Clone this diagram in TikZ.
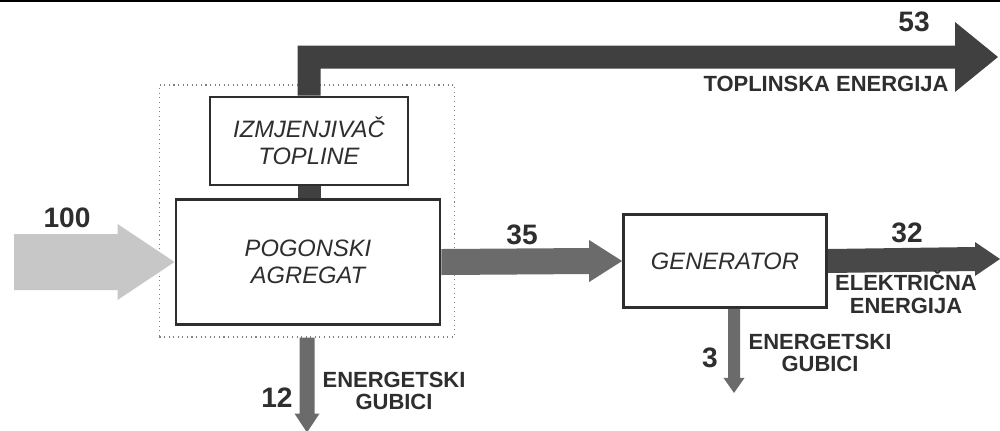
\documentclass[tikz,border=0pt]{standalone}
\usepackage{fontspec}
\setmainfont{Liberation Sans}
\usetikzlibrary{calc}
\definecolor{inflow}{gray}{0.78}
\definecolor{midflow}{gray}{0.42}
\definecolor{darkflow}{gray}{0.25}
\definecolor{ink}{gray}{0.18}
\begin{document}
\begin{tikzpicture}[x=0.2mm,y=-0.2mm,
    box/.style={draw=ink,line width=1.6pt,fill=white,inner sep=0pt,align=center,
      text=ink,font=\fontsize{13.5}{15.5}\selectfont\itshape},
    num/.style={inner sep=0pt,text=ink,font=\fontsize{16}{18}\selectfont\bfseries},
    lbl/.style={inner sep=0pt,align=center,text=ink,font=\fontsize{12.5}{13}\selectfont\bfseries}]
  \useasboundingbox (0,0) rectangle (1000,430);
  \draw[line width=0.5mm] (0,1) -- (1000,1);
  % dotted frame round the unit
  \node[draw=gray,dotted,line width=0.6pt,minimum width=59mm,minimum height=50.4mm]
  (grp) at (307,211) {};
  \node[box,minimum width=52.8mm,minimum height=25mm] (pa) at (308,262) {POGONSKI\\AGREGAT};
  \node[box,minimum width=39.6mm,minimum height=17.6mm] (iz) at (309,141) {IZMJENJIVAČ\\TOPLINE};
  \node[box,minimum width=40.6mm,minimum height=18.6mm] (gen) at (725,261) {GENERATOR};
  \coordinate (src) at (14,262);
  \coordinate (t53) at (998,57);
  \coordinate (t32) at (1000,259);
  \coordinate (t12) at ($(grp.south)+(0,95)$);
  \coordinate (t3) at ($(gen.south)+(9,84)$);
  % flows
  \fill[inflow] ($(src)+(0,-28)$) -- ($(pa.west)+(-57,-28)$) -- ($(pa.west)+(-57,-38)$)
  -- (pa.west) -- ($(pa.west)+(-57,38)$) -- ($(pa.west)+(-57,28)$) -- ($(src)+(0,28)$) -- cycle;
  \fill[darkflow] ($(iz.south)+(-11.5,0)$) rectangle ($(iz.south |- pa.north)+(11.5,0)$);
  \fill[darkflow] ($(iz.north)+(-11.5,0)$) |- ($(t53)+(-43,-11.5)$) -- ++(0,-23.5)
  -- (t53) -- ($(t53)+(-43,35)$) -- ++(0,-23.5) -| ($(iz.north)+(11.5,0)$) -- cycle;
  \fill[midflow] ($(pa.east)+(0,-13)$) -- ($(gen.west)+(-33,-13)$) -- ($(gen.west)+(-33,-21)$)
  -- (gen.west) -- ($(gen.west)+(-33,21)$) -- ($(gen.west)+(-33,13)$) -- ($(pa.east)+(0,13)$) -- cycle;
  \fill[darkflow!80!midflow] ($(gen.east)+(0,-12)$) -- ($(t32)+(-25,-12)$) -- ($(t32)+(-25,-17)$)
  -- (t32) -- ($(t32)+(-25,17)$) -- ($(t32)+(-25,12)$) -- ($(gen.east)+(0,12)$) -- cycle;
  \fill[midflow] ($(grp.south)+(-7.5,0)$) -- ($(t12)+(-7.5,-19)$) -- ($(t12)+(-12.5,-19)$)
  -- (t12) -- ($(t12)+(12.5,-19)$) -- ($(t12)+(7.5,-19)$) -- ($(grp.south)+(7.5,0)$) -- cycle;
  \fill[midflow] ($(t3 |- gen.south)+(-6,0)$) -- ($(t3)+(-6,-15)$) -- ($(t3)+(-10.5,-15)$)
  -- (t3) -- ($(t3)+(10.5,-15)$) -- ($(t3)+(6,-15)$) -- ($(t3 |- gen.south)+(6,0)$) -- cycle;
  % values and labels
  \node[num] (n100) at (67,218) {100};
  \node[num] (n53) at (914,22) {53};
  \node[lbl] (toplbl) at (826,84) {TOPLINSKA ENERGIJA};
  \node[num] (n35) at (522,235) {35};
  \node[num] (n32) at (907,233) {32};
  \node[lbl] (ellbl) at (906,292) {ELEKTRIČNA\\ENERGIJA};
  \node[num] (n12) at (277,398) {12};
  \node[lbl] (gub1) at (394,391) {ENERGETSKI\\GUBICI};
  \node[num] (n3) at (710,358) {3};
  \node[lbl] (gub2) at (820,353) {ENERGETSKI\\GUBICI};
\end{tikzpicture}
\end{document}
